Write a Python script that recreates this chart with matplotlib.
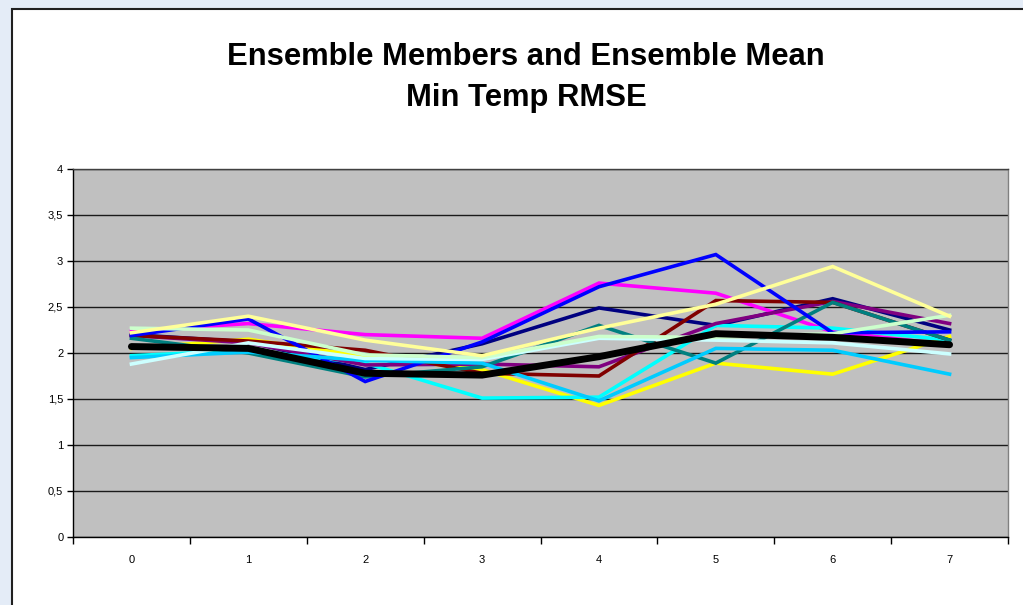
"""
Ensemble members and ensemble mean, min temp RMSE (Excel-style line chart).
"""

import matplotlib
matplotlib.use('Agg')
import matplotlib.pyplot as plt
from matplotlib.patches import Rectangle
from matplotlib.ticker import FixedLocator, FuncFormatter

# Forecast day (category axis)
days = [0, 1, 2, 3, 4, 5, 6, 7]

# Ensemble members, in Excel's default series order
navy = [2.20, 2.12, 1.82, 2.10, 2.49, 2.30, 2.59, 2.25]
magenta = [2.24, 2.32, 2.20, 2.16, 2.76, 2.65, 2.23, 2.09]
yellow = [2.05, 2.15, 1.96, 1.82, 1.43, 1.89, 1.77, 2.18]
cyan = [1.97, 2.03, 1.89, 1.51, 1.52, 2.30, 2.27, 2.14]
purple = [2.19, 2.11, 1.87, 1.88, 1.85, 2.32, 2.56, 2.32]
dark_red = [2.19, 2.13, 2.03, 1.78, 1.75, 2.57, 2.55, 2.14]
teal = [2.16, 2.00, 1.74, 1.85, 2.30, 1.89, 2.55, 2.14]
blue = [2.19, 2.37, 1.69, 2.12, 2.72, 3.07, 2.22, 2.23]
sky_blue = [1.95, 2.01, 1.92, 1.89, 1.48, 2.05, 2.03, 1.77]
light_turquoise = [1.88, 2.11, 1.94, 1.93, 2.16, 2.14, 2.11, 1.99]
light_green = [2.27, 2.25, 1.98, 1.95, 2.18, 2.17, 2.21, 2.41]
light_yellow = [2.22, 2.40, 2.14, 1.97, 2.27, 2.53, 2.94, 2.40]

# Ensemble mean
ens_mean = [2.07, 2.05, 1.78, 1.76, 1.96, 2.21, 2.17, 2.09]

members = [
    (navy, '#000080'),
    (magenta, '#FF00FF'),
    (yellow, '#FFFF00'),
    (cyan, '#00FFFF'),
    (purple, '#800080'),
    (dark_red, '#800000'),
    (teal, '#008080'),
    (blue, '#0000FF'),
    (sky_blue, '#00CCFF'),
    (light_turquoise, '#CCFFFF'),
    (light_green, '#CCFFCC'),
    (light_yellow, '#FFFF99'),
]

plt.rcParams['font.family'] = ['Liberation Sans', 'DejaVu Sans']

fig = plt.figure(figsize=(10.23, 6.05), dpi=100)
fig.patch.set_facecolor('#E4ECF7')

# white chart frame (behind the axes)
frame = Rectangle((12 / 1023, -0.01), 1.0, 1.01 - 9 / 605, transform=fig.transFigure,
                  facecolor='white', edgecolor='#202020', linewidth=1.5, zorder=-10)
fig.patches.append(frame)

fig.text(526 / 1023, 1 - 57 / 605, 'Ensemble Members and Ensemble Mean',
         ha='center', va='center', fontsize=22.3, fontweight='bold')
fig.text(526 / 1023, 1 - 98 / 605, 'Min Temp RMSE',
         ha='center', va='center', fontsize=22.3, fontweight='bold')

ax = fig.add_axes([73 / 1023, 1 - 537 / 605, 935 / 1023, 368 / 605])
ax.set_zorder(5)
ax.set_facecolor('#C0C0C0')

for values, color in members:
    ax.plot(days, values, color=color, linewidth=2.6, solid_joinstyle='miter')
ax.plot(days, ens_mean, color='black', linewidth=5, solid_capstyle='round')

ax.set_xlim(-0.5, 7.5)
ax.set_ylim(0, 4)

# category axis: ticks between categories, labels on categories
ax.xaxis.set_major_locator(FixedLocator([d - 0.5 for d in days] + [7.5]))
ax.xaxis.set_major_formatter(FuncFormatter(lambda v, p: ''))
ax.xaxis.set_minor_locator(FixedLocator(days))
ax.xaxis.set_minor_formatter(FuncFormatter(lambda v, p: f'{int(round(v))}'))
ax.tick_params(axis='x', which='major', direction='out', length=5, width=1, color='black')
ax.tick_params(axis='x', which='minor', length=0, pad=13, labelsize=8)

ax.set_yticks([i * 0.5 for i in range(9)])
ax.yaxis.set_major_formatter(FuncFormatter(lambda v, p: f'{v:g}'.replace('.', ',')))
ax.tick_params(axis='y', direction='out', length=4, width=1, color='black', labelsize=8, pad=3)

ax.grid(True, axis='y', color='#1a1a1a', linewidth=1)
ax.set_axisbelow(True)
for spine in ax.spines.values():
    spine.set_color('black')
    spine.set_linewidth(1)
ax.spines['right'].set_color('#808080')
ax.spines['top'].set_color('#404040')

fig.savefig('out.png', dpi=100, facecolor=fig.get_facecolor())
